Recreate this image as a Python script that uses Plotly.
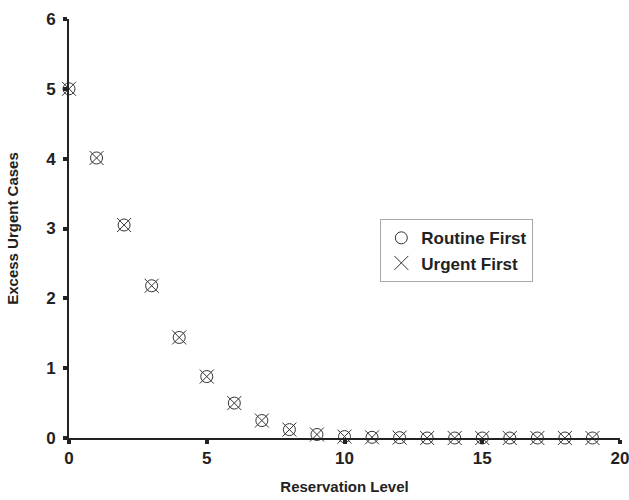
import plotly.graph_objects as go

levels = list(range(20))
routine_first = [5.0, 4.01, 3.05, 2.18, 1.44, 0.88, 0.50, 0.25, 0.12, 0.05, 0.02, 0.01, 0.005, 0.0, 0.0, 0.0, 0.0, 0.0, 0.0, 0.0]
urgent_first = [5.0, 4.01, 3.05, 2.18, 1.44, 0.88, 0.50, 0.25, 0.12, 0.05, 0.02, 0.01, 0.005, 0.0, 0.0, 0.0, 0.0, 0.0, 0.0, 0.0]
x_ticks = [0, 5, 10, 15, 20]
y_ticks = [0, 1, 2, 3, 4, 5, 6]

font = "Liberation Sans, Arial, sans-serif"
fig = go.Figure()
fig.add_trace(go.Scatter(x=levels, y=routine_first, mode="markers", name="Routine First",
                         marker=dict(symbol="circle-open", size=12, color="#333333", line=dict(width=1)),
                         cliponaxis=False))
fig.add_trace(go.Scatter(x=levels, y=urgent_first, mode="markers", name="Urgent First",
                         marker=dict(symbol="x-thin-open", size=14, color="#333333", line=dict(width=1)),
                         cliponaxis=False))

fig.update_layout(
    width=629, height=500,
    margin=dict(l=69, r=9, t=19, b=62),
    plot_bgcolor="white", paper_bgcolor="white",
    font=dict(family=font, size=14, color="#222222"),
    showlegend=True,
    legend=dict(x=0.565, y=0.522, xanchor="left", yanchor="top",
                bordercolor="#aaaaaa", borderwidth=1, bgcolor="white",
                font=dict(family=font, size=17, color="#222222", weight="bold"),
                itemwidth=30, tracegroupgap=0),
    xaxis=dict(range=[0, 20], tickvals=x_ticks, showgrid=False, zeroline=False,
               showline=True, linecolor="#222222", linewidth=2, automargin=False,
               ticks="outside", ticklen=4, tickwidth=4, tickcolor="#222222",
               ticklabeloverflow="allow",
               tickfont=dict(family=font, size=17, weight="bold"),
               title=dict(text="Reservation Level", font=dict(family=font, size=15, weight="bold"), standoff=14)),
    yaxis=dict(range=[0, 6], tickvals=y_ticks, showgrid=False, zeroline=False,
               showline=True, linecolor="#222222", linewidth=2, automargin=False,
               ticks="outside", ticklen=4, tickwidth=4, tickcolor="#222222",
               ticklabeloverflow="allow", ticklabelstandoff=4,
               tickfont=dict(family=font, size=17, weight="bold"),
               title=dict(text="Excess Urgent Cases", font=dict(family=font, size=15, weight="bold"), standoff=24)),
)
fig.write_html("out.html")
